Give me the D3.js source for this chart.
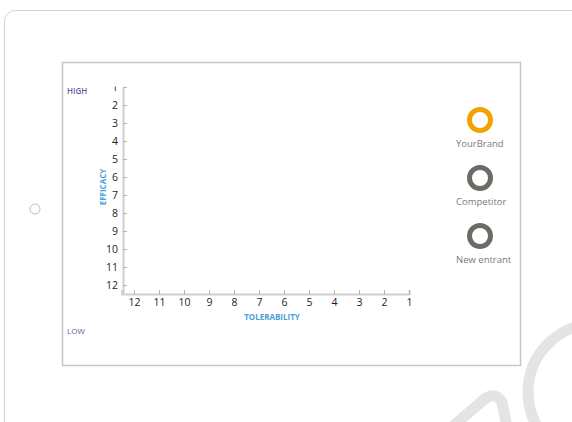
<!DOCTYPE html>
<html>
<head>
<meta charset="utf-8">
<script src="https://cdn.jsdelivr.net/npm/d3@7"></script>
<style>
  html, body { margin: 0; padding: 0; background: #fff; }
  svg { display: block; }
  text { font-family: "Open Sans", "DejaVu Sans", sans-serif; }
</style>
</head>
<body>
<svg id="chart" width="572" height="422"></svg>
<script>
// Axis ranks: tolerability runs 12 -> 1 left to right, efficacy 1 -> 12 top to bottom
const toleranceTicks = [12, 11, 10, 9, 8, 7, 6, 5, 4, 3, 2, 1];
const efficacyTicks = [1, 2, 3, 4, 5, 6, 7, 8, 9, 10, 11, 12];
const seriesNames = ["YourBrand", "Competitor", "New entrant"];
const seriesColors = ["#f2a200", "#6e6b67", "#6e6b67"];
const axisTitles = { x: "TOLERABILITY", y: "EFFICACY" };
const scaleEnds = { high: "HIGH", low: "LOW" };

const svg = d3.select("#chart");

// Device frame
svg.append("rect")
  .attr("x", 4.5).attr("y", 10.5)
  .attr("width", 720).attr("height", 560)
  .attr("rx", 11)
  .attr("fill", "none").attr("stroke", "#d2d2d2").attr("stroke-width", 1);

svg.append("circle")
  .attr("cx", 35).attr("cy", 209).attr("r", 5)
  .attr("fill", "none").attr("stroke", "#bdbdbd").attr("stroke-width", 1);

// Decorative strokes in the lower right corner
svg.append("circle")
  .attr("cx", 596).attr("cy", 392).attr("r", 68)
  .attr("fill", "none").attr("stroke", "#e4e4e4").attr("stroke-width", 11);
svg.append("path")
  .attr("d", "M446,432 L486,398 Q496,392 502,402 L508,432")
  .attr("fill", "none").attr("stroke", "#e4e4e4").attr("stroke-width", 11)
  .attr("stroke-linecap", "round").attr("stroke-linejoin", "round");

// Screen
svg.append("rect")
  .attr("x", 62.5).attr("y", 62.5)
  .attr("width", 458).attr("height", 303)
  .attr("fill", "#fff").attr("stroke", "#c6c6c2").attr("stroke-width", 1.5);

// Scales
const x = d3.scaleLinear().domain([12.5, 1]).range([121.5, 409]);
const y = d3.scaleLinear().domain([1, 12.5]).range([87, 294]);

svg.append("defs").append("clipPath").attr("id", "plotClip")
  .append("rect").attr("x", 60).attr("y", 86.5).attr("width", 400).attr("height", 240);

const axes = svg.append("g").attr("clip-path", "url(#plotClip)");

const xAxis = d3.axisBottom(x)
  .tickValues(toleranceTicks)
  .tickFormat(d3.format("d"))
  .tickSizeInner(-4).tickSizeOuter(-4).tickPadding(5);

const yAxis = d3.axisLeft(y)
  .tickValues(efficacyTicks)
  .tickFormat(d3.format("d"))
  .tickSizeInner(-4).tickSizeOuter(0).tickPadding(5);

function styleAxis(g) {
  g.select(".domain").attr("stroke", "#cfcfcf").attr("stroke-width", 2);
  g.selectAll(".tick line").attr("stroke", "#b5b5b5").attr("stroke-width", 1);
  g.selectAll(".tick text")
    .attr("fill", "#1e1e1e").attr("font-size", 10.5)
    .attr("font-family", "'Open Sans', sans-serif");
}

axes.append("g").attr("transform", "translate(0,294)").call(xAxis).call(styleAxis);
axes.append("g").attr("transform", "translate(123,0)").call(yAxis).call(styleAxis);

// Axis titles
svg.append("text")
  .attr("x", 272).attr("y", 318)
  .attr("text-anchor", "middle").attr("dominant-baseline", "middle")
  .attr("font-size", 8).attr("font-weight", 700).attr("fill", "#4a9ed8")
  .text(axisTitles.x);

svg.append("text")
  .attr("transform", "translate(104,187) rotate(-90)")
  .attr("text-anchor", "middle").attr("dominant-baseline", "middle")
  .attr("font-size", 8).attr("font-weight", 700).attr("fill", "#4a9ed8")
  .text(axisTitles.y);

svg.append("text")
  .attr("x", 67).attr("y", 92)
  .attr("dominant-baseline", "middle")
  .attr("font-size", 8).attr("font-weight", 600).attr("fill", "#6a5c9e")
  .text(scaleEnds.high);

svg.append("text")
  .attr("x", 67).attr("y", 332)
  .attr("dominant-baseline", "middle")
  .attr("font-size", 8).attr("fill", "#6a5c9e")
  .text(scaleEnds.low);

// Legend
const legendY = d3.scalePoint().domain(seriesNames).range([120, 236]);
const legend = svg.append("g").selectAll("g")
  .data(seriesNames)
  .join("g")
  .attr("transform", d => `translate(480,${legendY(d)})`);

legend.append("circle")
  .attr("r", 10.5)
  .attr("fill", "none")
  .attr("stroke", (d, i) => seriesColors[i])
  .attr("stroke-width", 5);

legend.append("text")
  .attr("x", -24).attr("y", 24)
  .attr("dominant-baseline", "middle")
  .attr("font-size", 9.5).attr("fill", "#7a7a7a")
  .text(d => d);
</script>
</body>
</html>
